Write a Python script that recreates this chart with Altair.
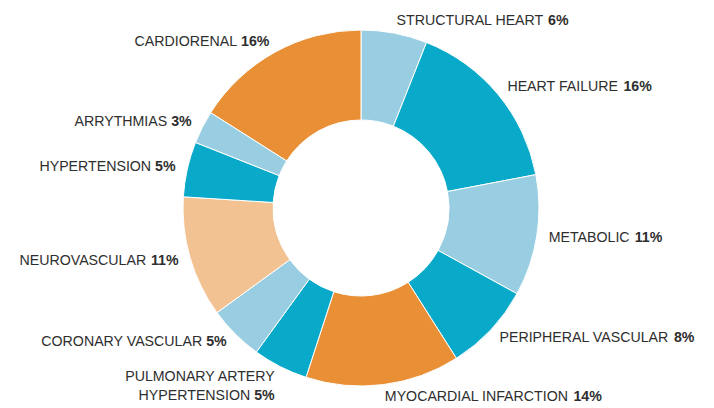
import altair as alt
import pandas as pd

# ---- data (clockwise from 12 o'clock) ----
first_lines = ["", "", "", "", "", "PULMONARY ARTERY", "", "", "", "", ""]
last_lines = ["STRUCTURAL HEART", "HEART FAILURE", "METABOLIC", "PERIPHERAL VASCULAR",
              "MYOCARDIAL INFARCTION", "HYPERTENSION", "CORONARY VASCULAR",
              "NEUROVASCULAR", "HYPERTENSION", "ARRYTHMIAS", "CARDIORENAL"]
values = [6, 16, 11, 8, 14, 5, 5, 11, 5, 3, 16]
groups = ["light", "teal", "light", "teal", "orange", "teal", "light",
          "peach", "teal", "light", "orange"]

group_domain = ["light", "teal", "orange", "peach"]
group_colors = ["#99CEE2", "#08A9C9", "#E98F35", "#F2C292"]

# ---- layout / style ----
W, H = 690, 400
PAD_L = 8
R_OUT, R_IN = 178, 88
R_LABEL = 190
FS = 14.2
LINE_H = 19
FONT = "Liberation Sans"
TXT = "#2e2e2e"

# Arial / Liberation Sans advance widths (per 1000 em)
AW = {"A": 667, "B": 667, "C": 722, "D": 722, "E": 667, "F": 611, "G": 778, "H": 722,
      "I": 278, "J": 500, "K": 667, "L": 556, "M": 833, "N": 722, "O": 778, "P": 667,
      "Q": 778, "R": 722, "S": 667, "T": 611, "U": 722, "V": 667, "W": 944, "X": 667,
      "Y": 667, "Z": 611, " ": 278, "%": 889}
for d in "0123456789":
    AW[d] = 556


def tw(s):
    return sum(AW.get(c, 600) for c in s) * FS / 1000.0


SP = tw(" ")

df = pd.DataFrame({
    "order": list(range(len(values))),
    "line1": first_lines,
    "last": last_lines,
    "value": values,
    "group": groups,
    "name_w": [tw(s) for s in last_lines],
    "pct_w": [tw(f"{v}%") for v in values],
})

color = alt.Color("group:N", scale=alt.Scale(domain=group_domain, range=group_colors), legend=None)

arcs = alt.Chart(df).mark_arc(
    innerRadius=R_IN, outerRadius=R_OUT, stroke="white", strokeWidth=1
).encode(
    theta=alt.Theta("value:Q", stack=True),
    order=alt.Order("order:Q", sort="ascending"),
    color=color,
)

base = alt.Chart(df).transform_joinaggregate(
    total="sum(value)"
).transform_window(
    cum="sum(value)", sort=[alt.SortField("order")], frame=[None, 0]
).transform_calculate(
    ang="2*PI*(datum.cum - datum.value/2)/datum.total"
).transform_calculate(
    ax=f"{R_LABEL}*sin(datum.ang)",
    ay=f"-{R_LABEL}*cos(datum.ang)",
    pct="datum.value + '%'",
).transform_calculate(
    right="datum.ax >= 0",
    main_y=f"datum.ay + (datum.line1 != '' ? {LINE_H} : 0)",
).transform_calculate(
    name_x=f"datum.right ? datum.ax : datum.ax - datum.pct_w - {SP}",
    pct_x=f"datum.right ? datum.ax + datum.name_w + {SP} : datum.ax",
)

xs = alt.Scale(domain=[-W / 2, W / 2], nice=False, zero=False)
ys = alt.Scale(domain=[-H / 2, H / 2], nice=False, zero=False, reverse=True)


def txt(field_x, field_y, text, align, bold, flt):
    return base.transform_filter(flt).mark_text(
        align=align, baseline="middle", font=FONT, fontSize=FS,
        fontWeight="bold" if bold else "normal", color=TXT
    ).encode(
        x=alt.X(f"{field_x}:Q", scale=xs, axis=None),
        y=alt.Y(f"{field_y}:Q", scale=ys, axis=None),
        text=alt.Text(f"{text}:N"),
    )


layers = [
    arcs,
    txt("name_x", "main_y", "last", "left", False, "datum.right"),
    txt("pct_x", "main_y", "pct", "left", True, "datum.right"),
    txt("name_x", "main_y", "last", "right", False, "!datum.right"),
    txt("pct_x", "main_y", "pct", "right", True, "!datum.right"),
    txt("ax", "ay", "line1", "left", False, "datum.right && datum.line1 != ''"),
    txt("ax", "ay", "line1", "right", False, "!datum.right && datum.line1 != ''"),
]

chart = alt.layer(*layers).properties(
    width=W, height=H,
    padding={"left": PAD_L, "right": 0, "top": 0, "bottom": 0},
    autosize=alt.AutoSizeParams(type="none"),
).configure_view(stroke=None)

chart.save("out.html", embed_options={"renderer": "svg", "actions": False})
